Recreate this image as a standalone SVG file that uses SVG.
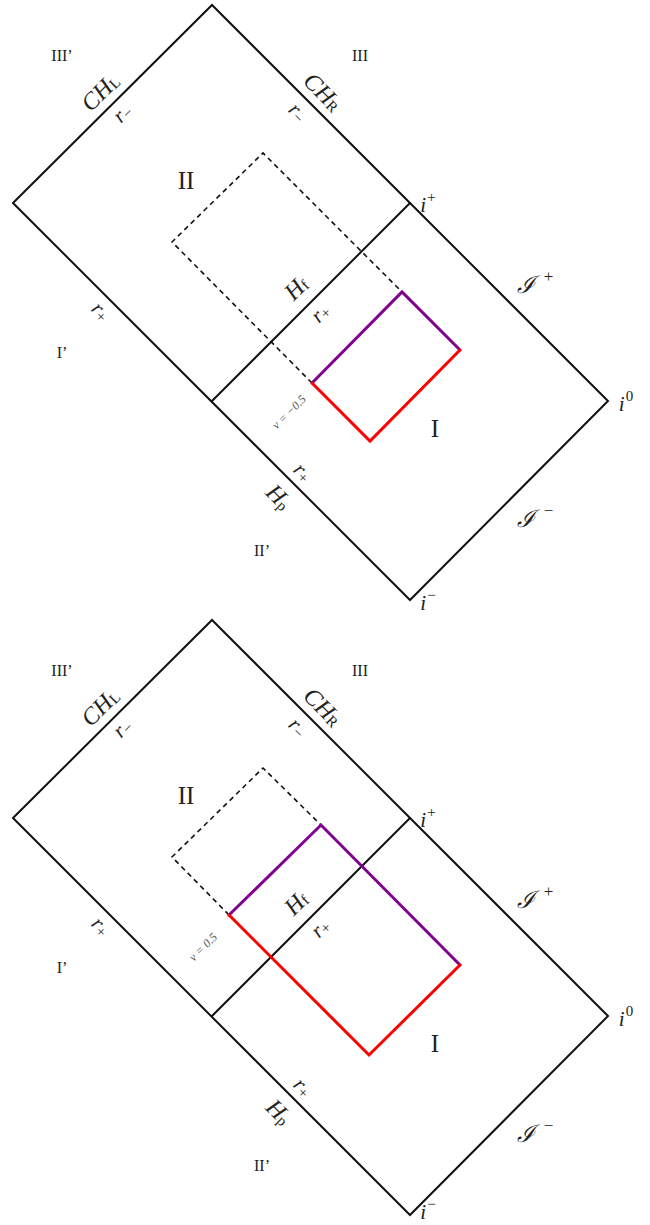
<svg xmlns="http://www.w3.org/2000/svg" width="650" height="1225" viewBox="0 0 650 1225">
<style>
.ln{fill:none;stroke:#111;stroke-width:2;stroke-linecap:round;stroke-linejoin:miter}
.ds{fill:none;stroke:#111;stroke-width:1.6;stroke-dasharray:5,4}
.pu{fill:none;stroke:#800090;stroke-width:3;stroke-linecap:round}
.rd{fill:none;stroke:#ff0000;stroke-width:3;stroke-linecap:round;stroke-linejoin:miter}
text{font-family:"Liberation Serif","DejaVu Serif",serif;fill:#222;text-anchor:middle;dominant-baseline:central}
.m{font-style:italic}
.rg{font-size:16px}
.big{font-size:25px}
.lb{font-size:24px}
.sm{font-size:21px}
.tiny{font-size:12px;fill:#555;font-style:italic}
.sub{font-size:15px;font-style:normal}
.sup{font-size:17px;font-style:normal}
</style>
<g id="diagram-top">
<g id="connectors-top">
<polyline class="ln" points="13,203 212,5 410,203 608,401 410,600 13,203"/>
<line class="ln" x1="212" y1="401" x2="410" y2="203"/>
<polyline class="ds" points="312,383 172,242 263,153 402,292"/>
<polyline class="pu" points="312,383 402,292 460,350"/>
<polyline class="rd" points="312,383 370,441 460,350"/>
</g>
<g id="labels-top">
<text class="rg" x="62" y="55">III’</text>
<text class="rg" x="360" y="55">III</text>
<text class="lb m" transform="translate(100,92) rotate(-45)">CH<tspan class="sub" dy="4">L</tspan></text>
<text class="sm m" transform="translate(122,113) rotate(-45)">r<tspan class="sub" dy="4">−</tspan></text>
<text class="lb m" transform="translate(323,92) rotate(45)">CH<tspan class="sub" dy="4">R</tspan></text>
<text class="sm m" transform="translate(298,112) rotate(45)">r<tspan class="sub" dy="4">−</tspan></text>
<text class="big" x="186" y="180">II</text>
<text class="sm m" x="428" y="205">i<tspan class="sub" dx="1" dy="-8">+</tspan></text>
<text class="lb m" x="535" y="285">ℐ<tspan class="sup" dx="9" dy="-9">+</tspan></text>
<text class="lb m" transform="translate(296,288) rotate(-45)">H<tspan class="sub" font-style="italic" dy="4">f</tspan></text>
<text class="sm m" transform="translate(320,313) rotate(-45)">r<tspan class="sub" dy="4">+</tspan></text>
<text class="sm m" transform="translate(101,311) rotate(45)">r<tspan class="sub" dy="4">+</tspan></text>
<text class="rg" x="62" y="352">I’</text>
<text class="tiny" transform="translate(289,412) rotate(-45)">v = −0.5</text>
<text class="big" x="435" y="428">I</text>
<text class="sm m" transform="translate(303,472) rotate(45)">r<tspan class="sub" dy="4">+</tspan></text>
<text class="lb m" transform="translate(279,497) rotate(45)">H<tspan class="sub" font-style="italic" dy="4">p</tspan></text>
<text class="rg" x="262" y="550">II’</text>
<text class="lb m" x="535" y="519">ℐ<tspan class="sup" dx="9" dy="-9">−</tspan></text>
<text class="sm m" x="626" y="404">i<tspan class="sub" dx="1" dy="-8">0</tspan></text>
<text class="sm m" x="428" y="603">i<tspan class="sub" dx="1" dy="-8">−</tspan></text>
</g>
</g>
<g id="diagram-bottom">
<g id="connectors-bottom">
<polyline class="ln" points="13,818 212,620 410,818 608,1016 410,1215 13,818"/>
<line class="ln" x1="212" y1="1016" x2="410" y2="818"/>
<polyline class="ds" points="229,915 172,857 263,768 321,825"/>
<polyline class="pu" points="229,915 321,825 460,965"/>
<polyline class="rd" points="229,915 369,1055 460,965"/>
</g>
<g id="labels-bottom">
<text class="rg" x="62" y="670">III’</text>
<text class="rg" x="360" y="670">III</text>
<text class="lb m" transform="translate(100,707) rotate(-45)">CH<tspan class="sub" dy="4">L</tspan></text>
<text class="sm m" transform="translate(122,728) rotate(-45)">r<tspan class="sub" dy="4">−</tspan></text>
<text class="lb m" transform="translate(323,707) rotate(45)">CH<tspan class="sub" dy="4">R</tspan></text>
<text class="sm m" transform="translate(298,727) rotate(45)">r<tspan class="sub" dy="4">−</tspan></text>
<text class="big" x="186" y="795">II</text>
<text class="sm m" x="428" y="820">i<tspan class="sub" dx="1" dy="-8">+</tspan></text>
<text class="lb m" x="535" y="900">ℐ<tspan class="sup" dx="9" dy="-9">+</tspan></text>
<text class="lb m" transform="translate(296,903) rotate(-45)">H<tspan class="sub" font-style="italic" dy="4">f</tspan></text>
<text class="sm m" transform="translate(320,928) rotate(-45)">r<tspan class="sub" dy="4">+</tspan></text>
<text class="sm m" transform="translate(101,926) rotate(45)">r<tspan class="sub" dy="4">+</tspan></text>
<text class="rg" x="62" y="967">I’</text>
<text class="tiny" transform="translate(203,947) rotate(-45)">v = 0.5</text>
<text class="big" x="435" y="1043">I</text>
<text class="sm m" transform="translate(303,1087) rotate(45)">r<tspan class="sub" dy="4">+</tspan></text>
<text class="lb m" transform="translate(279,1112) rotate(45)">H<tspan class="sub" font-style="italic" dy="4">p</tspan></text>
<text class="rg" x="262" y="1165">II’</text>
<text class="lb m" x="535" y="1134">ℐ<tspan class="sup" dx="9" dy="-9">−</tspan></text>
<text class="sm m" x="626" y="1019">i<tspan class="sub" dx="1" dy="-8">0</tspan></text>
<text class="sm m" x="428" y="1212">i<tspan class="sub" dx="1" dy="-8">−</tspan></text>
</g>
</g>
</svg>
